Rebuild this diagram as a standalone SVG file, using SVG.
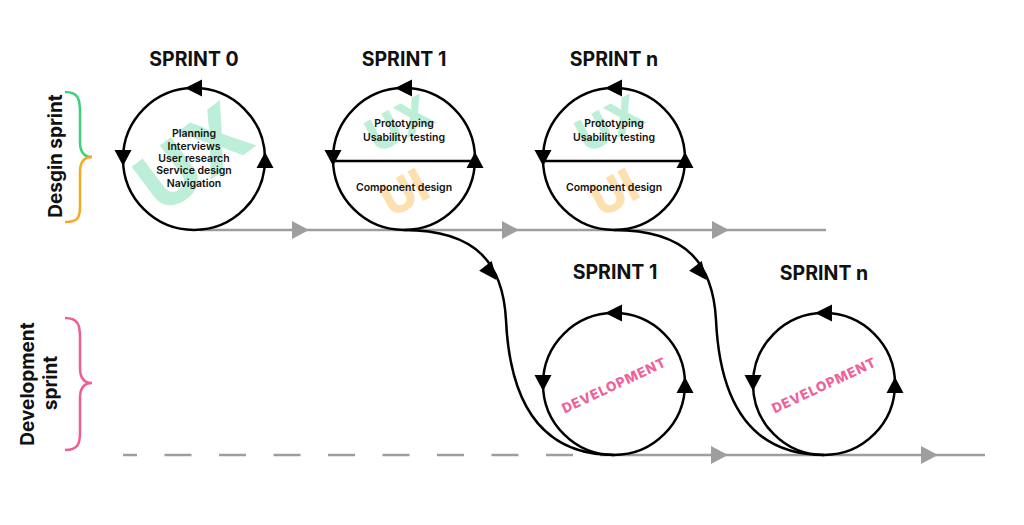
<svg xmlns="http://www.w3.org/2000/svg" width="1024" height="525" viewBox="0 0 1024 525">
<style>
.ring{fill:none;stroke:#000;stroke-width:2.5}
.conn{fill:none;stroke:#000;stroke-width:2.5}
.grey{fill:none;stroke:#9e9e9e;stroke-width:2.5}
.head{font-family:Inter,"Liberation Sans",sans-serif;font-weight:700;font-size:19.5px;fill:#111;text-anchor:middle}
.body{font-family:Inter,"Liberation Sans",sans-serif;font-weight:600;font-size:10.5px;fill:#111;text-anchor:middle}
.side{font-family:Inter,"Liberation Sans",sans-serif;font-weight:700;font-size:19px;fill:#111;text-anchor:middle}
.ux{font-family:Inter,"Liberation Sans",sans-serif;font-weight:800;fill:#bdefd8;text-anchor:middle}
.ui{font-family:Inter,"Liberation Sans",sans-serif;font-weight:800;fill:#fde0b0;text-anchor:middle}
.dev{font-family:Inter,"Liberation Sans",sans-serif;font-weight:800;font-size:13.5px;fill:#f0609a;text-anchor:middle;letter-spacing:0.9px}
</style>
<defs>
<g id="arrows">
<polygon points="-9,-71 8,-79.5 8,-62.5" fill="#000"/>
<polygon points="-71,7 -79.5,-9 -62.5,-9" fill="#000"/>
<polygon points="71,-7 62.5,9 79.5,9" fill="#000"/>
</g>
<polygon id="garrow" points="-8,-9 9,0 -8,9" fill="#9e9e9e"/>
</defs>

<g id="connectors">
<line class="grey" x1="200" y1="230" x2="826" y2="230"/>
<use href="#garrow" x="300" y="230"/>
<use href="#garrow" x="510" y="230"/>
<use href="#garrow" x="720" y="230"/>
<line class="grey" x1="123" y1="455" x2="573" y2="455" stroke-dasharray="27 27.5" stroke-dashoffset="13"/>
<line class="grey" x1="600" y1="455" x2="985" y2="455"/>
<use href="#garrow" x="719" y="455"/>
<use href="#garrow" x="929" y="455"/>
<path class="conn" d="M404,230 C478,230 503,265 506,320 C509,385 530,455 614,455"/>
<polygon points="-9,-8 9,0 -9,8" fill="#000" transform="translate(491,273) rotate(52)"/>
<path class="conn" d="M614,230 C688,230 713,265 716,320 C719,385 740,455 824,455"/>
<polygon points="-9,-8 9,0 -9,8" fill="#000" transform="translate(701,273) rotate(52)"/>
</g>

<g id="label-design">
<path d="M65,92 C79,92 80,100 80,113 L80,142 C80,152 84,157 92,157" fill="none" stroke="#3dd17a" stroke-width="2.5"/>
<path d="M92,157 C84,157 80,162 80,172 L80,206 C80,218 78,222 65,222" fill="none" stroke="#f7a823" stroke-width="2.5"/>
<text class="side" transform="translate(62,156) rotate(-90)">Desgin sprint</text>
</g>

<g id="label-dev">
<path d="M65,318 C79,318 80,326 80,338 L80,368 C80,378 84,383 92,383 C84,383 80,388 80,398 L80,432 C80,444 78,450 65,450" fill="none" stroke="#ee5f93" stroke-width="2.5"/>
<text class="side" transform="translate(34,384) rotate(-90)">Development</text>
<text class="side" transform="translate(57,383) rotate(-90)">sprint</text>
</g>

<g id="sprint0">
<text class="head" x="194" y="66">SPRINT 0</text>
<text class="ux" font-size="80" transform="translate(193,157) rotate(-37)" y="29">UX</text>
<circle class="ring" cx="194" cy="159" r="71"/>
<use href="#arrows" transform="translate(194,159)"/>
<text class="body" x="194" y="137">Planning</text>
<text class="body" x="194" y="150">Interviews</text>
<text class="body" x="194" y="162">User research</text>
<text class="body" x="194" y="174">Service design</text>
<text class="body" x="194" y="187">Navigation</text>
</g>

<g id="sprint1-design">
<text class="head" x="404" y="66">SPRINT 1</text>
<text class="ux" font-size="46" transform="translate(399,123) rotate(-28)" y="17">UX</text>
<text class="ui" font-size="46" transform="translate(404,192) rotate(-28)" y="17">UI</text>
<circle class="ring" cx="404" cy="159" r="71"/>
<line class="ring" x1="333" y1="161" x2="475" y2="161"/>
<use href="#arrows" transform="translate(404,159)"/>
<text class="body" x="404" y="127">Prototyping</text>
<text class="body" x="404" y="141">Usability testing</text>
<text class="body" x="404" y="191">Component design</text>
</g>

<g id="sprintn-design">
<text class="head" x="614" y="66">SPRINT n</text>
<text class="ux" font-size="46" transform="translate(609,123) rotate(-28)" y="17">UX</text>
<text class="ui" font-size="46" transform="translate(614,192) rotate(-28)" y="17">UI</text>
<circle class="ring" cx="614" cy="159" r="71"/>
<line class="ring" x1="543" y1="161" x2="685" y2="161"/>
<use href="#arrows" transform="translate(614,159)"/>
<text class="body" x="614" y="127">Prototyping</text>
<text class="body" x="614" y="141">Usability testing</text>
<text class="body" x="614" y="191">Component design</text>
</g>

<g id="sprint1-dev">
<text class="head" x="615" y="279">SPRINT 1</text>
<circle class="ring" cx="614" cy="384" r="71"/>
<use href="#arrows" transform="translate(614,384)"/>
<text class="dev" transform="translate(614,385) rotate(-25)" y="5">DEVELOPMENT</text>
</g>

<g id="sprintn-dev">
<text class="head" x="824" y="280">SPRINT n</text>
<circle class="ring" cx="824" cy="384" r="71"/>
<use href="#arrows" transform="translate(824,384)"/>
<text class="dev" transform="translate(824,385) rotate(-25)" y="5">DEVELOPMENT</text>
</g>
</svg>
